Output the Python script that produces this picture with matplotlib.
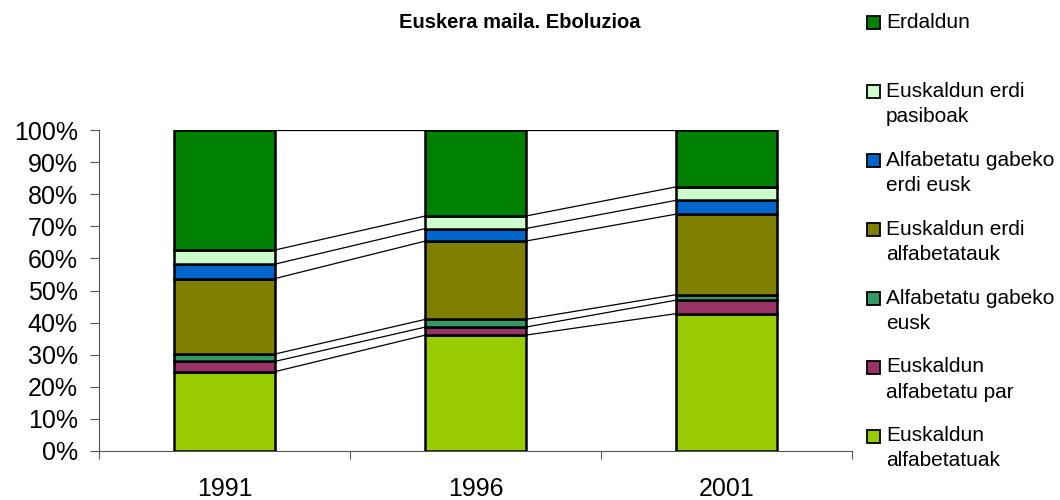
import matplotlib
matplotlib.use("Agg")
import matplotlib.pyplot as plt
from matplotlib.patches import Rectangle
from matplotlib.ticker import PercentFormatter
import numpy as np

plt.rcParams["font.family"] = ["Liberation Sans", "DejaVu Sans"]

years = ["1991", "1996", "2001"]

# series, bottom to top (percent of population)
labels = [
    "Euskaldun\nalfabetatuak",
    "Euskaldun\nalfabetatu par",
    "Alfabetatu gabeko\neusk",
    "Euskaldun erdi\nalfabetatauk",
    "Alfabetatu gabeko\nerdi eusk",
    "Euskaldun erdi\npasiboak",
    "Erdaldun",
]
alfabetatuak = [24.7, 36.1, 42.8]
alfabetatu_par = [3.2, 2.5, 4.2]
gabeko_eusk = [2.3, 2.4, 1.7]
erdi_alfabetatauk = [23.5, 24.4, 25.1]
gabeko_erdi = [4.5, 3.9, 4.3]
erdi_pasiboak = [4.4, 3.9, 4.2]
erdaldun = [37.4, 26.8, 17.7]

colors = ["#99CC00", "#993366", "#339966", "#808000", "#0066CC", "#CCFFCC", "#008000"]

series = [alfabetatuak, alfabetatu_par, gabeko_eusk, erdi_alfabetatauk,
          gabeko_erdi, erdi_pasiboak, erdaldun]
data = np.array(series, dtype=float)
data = data / data.sum(axis=0)  # 100% stacked

fig = plt.figure(figsize=(10.6, 5.0), dpi=100)
ax = fig.add_axes([99 / 1060, 1 - 451 / 500, (852 - 99) / 1060, (451 - 130) / 500])

x = np.arange(len(years))
width = 0.4
bottom = np.zeros(len(years))
for vals, col in zip(data, colors):
    ax.bar(x, vals, width, bottom=bottom, color=col, edgecolor="black",
           linewidth=1.8, zorder=3)
    bottom = bottom + vals
    # series lines between bars
    for i in range(len(years) - 1):
        ax.plot([x[i] + width / 2, x[i + 1] - width / 2], [bottom[i], bottom[i + 1]],
                color="black", linewidth=0.9, zorder=2)

ax.set_xlim(-0.5, len(years) - 0.5)
ax.set_ylim(0, 1)
ax.set_yticks(np.linspace(0, 1, 11))
ax.yaxis.set_major_formatter(PercentFormatter(1.0, decimals=0))

ax.set_xticks(np.arange(len(years) + 1) - 0.5)
ax.set_xticklabels([])
ax.set_xticks(x, minor=True)
ax.set_xticklabels(years, minor=True)
ax.tick_params(axis="x", which="major", direction="out", length=6, width=0.8, color="#555555")
ax.tick_params(axis="x", which="minor", length=0, pad=19, labelsize=18)
ax.tick_params(axis="y", direction="out", length=6.3, width=0.8, color="#555555",
               pad=9, labelsize=18)

for s in ["top", "right"]:
    ax.spines[s].set_visible(False)
for s in ["left", "bottom"]:
    ax.spines[s].set_color("#555555")
    ax.spines[s].set_linewidth(0.8)

fig.text(520 / 1060, 1 - 22 / 500, "Euskera maila. Eboluzioa", ha="center", va="center",
         fontsize=14.5, fontweight="bold")

# legend, top entry = top series
leg_y0 = 23
leg_step = 68.9
for k, idx in enumerate(range(len(labels) - 1, -1, -1)):
    yc = leg_y0 + k * leg_step
    fig.add_artist(Rectangle((867 / 1060, 1 - (yc + 6.5) / 500), 13 / 1060, 13 / 500,
                             transform=fig.transFigure, facecolor=colors[idx],
                             edgecolor="black", linewidth=1.3))
    fig.text(886 / 1060, 1 - (yc - 10) / 500, labels[idx], ha="left", va="top",
             fontsize=15, linespacing=1.4)

fig.savefig("out.png", dpi=100)
